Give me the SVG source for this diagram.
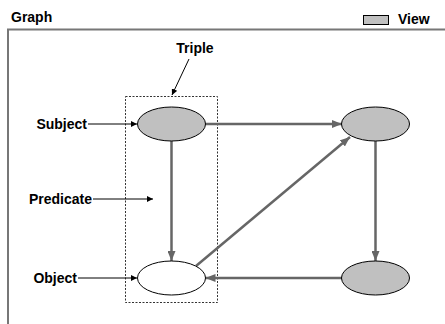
<svg xmlns="http://www.w3.org/2000/svg" width="445" height="324" viewBox="0 0 445 324">
  <style>
    text { font-family: "Liberation Sans", Arial, sans-serif; font-weight: bold; font-size: 14px; fill: #000; }
    .node { stroke: #000; stroke-width: 1; }
    .view { fill: #c0c0c0; }
    .plain { fill: #fff; }
    .edge { stroke: #666; stroke-width: 2.5; fill: none; marker-end: url(#bigArrow); }
    .pointer { stroke: #000; stroke-width: 1; fill: none; marker-end: url(#smallArrow); }
  </style>
  <defs>
    <marker id="bigArrow" viewBox="0 0 10 8" refX="10" refY="4" markerWidth="10" markerHeight="8" markerUnits="userSpaceOnUse" orient="auto">
      <path d="M0,0 L10,4 L0,8 Z" fill="#666"/>
    </marker>
    <marker id="smallArrow" viewBox="0 0 6 6" refX="6" refY="3" markerWidth="6" markerHeight="6" markerUnits="userSpaceOnUse" orient="auto">
      <path d="M0,0 L6,3 L0,6 Z" fill="#000"/>
    </marker>
  </defs>

  <rect width="445" height="324" fill="#fff"/>

  <!-- frame and header -->
  <g id="frame">
    <path d="M8,324 V29.5 H445" fill="none" stroke="#777" stroke-width="2"/>
    <text x="11" y="21.5">Graph</text>
  </g>
  <g id="legend">
    <rect x="363.5" y="15.5" width="25" height="9" class="view" stroke="#000" stroke-width="1"/>
    <text x="398" y="24">View</text>
  </g>

  <!-- triple boundary -->
  <g id="triple">
    <rect x="125.5" y="96.5" width="92" height="206" fill="none" stroke="#333" stroke-width="1" stroke-dasharray="2,1.5"/>
    <text x="195" y="53" text-anchor="middle">Triple</text>
  </g>

  <!-- connectors -->
  <g id="connectors">
    <line class="edge" x1="171.5" y1="141" x2="171.5" y2="261"/>
    <line class="edge" x1="205.5" y1="124" x2="342" y2="124"/>
    <line class="edge" x1="375.5" y1="141" x2="375.5" y2="261"/>
    <line class="edge" x1="342" y1="278" x2="205.5" y2="278"/>
    <line class="edge" x1="196" y1="266" x2="350" y2="137"/>
    <line class="pointer" x1="189" y1="59" x2="172" y2="95"/>
    <line class="pointer" x1="88" y1="124" x2="137" y2="124"/>
    <line class="pointer" x1="93" y1="199" x2="153" y2="199"/>
    <line class="pointer" x1="78" y1="278" x2="137" y2="278"/>
  </g>

  <!-- nodes -->
  <g id="subject">
    <ellipse class="node view" cx="171.5" cy="124" rx="34" ry="17"/>
  </g>
  <g id="object">
    <ellipse class="node plain" cx="171.5" cy="278" rx="34" ry="17"/>
  </g>
  <g id="view-top">
    <ellipse class="node view" cx="375.5" cy="124" rx="34" ry="17"/>
  </g>
  <g id="view-bottom">
    <ellipse class="node view" cx="375.5" cy="278" rx="34" ry="17"/>
  </g>

  <!-- part labels -->
  <g id="labels">
    <text x="87" y="128.5" text-anchor="end">Subject</text>
    <text x="92" y="203.5" text-anchor="end">Predicate</text>
    <text x="77" y="282.5" text-anchor="end">Object</text>
  </g>
</svg>
